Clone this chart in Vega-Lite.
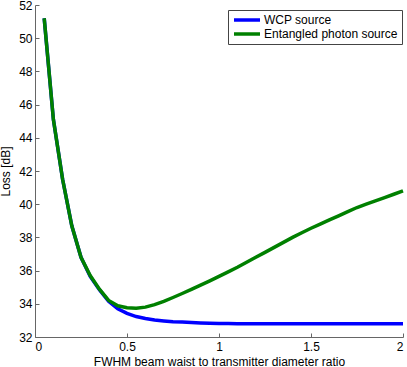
{
  "$schema": "https://vega.github.io/schema/vega-lite/v6.json",
  "width": 368,
  "height": 332,
  "autosize": "none",
  "padding": {"left": 35, "top": 5, "right": 4, "bottom": 30},
  "background": "white",
  "config": {
    "view": {"stroke": null},
    "font": "Liberation Sans",
    "axis": {
      "grid": false,
      "domainColor": "#666666",
      "tickColor": "#666666",
      "tickSize": -4,
      "labelColor": "#000000",
      "titleColor": "#000000",
      "labelFontSize": 12,
      "titleFontSize": 12,
      "titleFontWeight": "normal",
      "labelFont": "Liberation Sans",
      "titleFont": "Liberation Sans"
    }
  },
  "datasets": {
    "curves": [
      {"x": 0.05, "loss": 51.2, "source": "WCP source"},
      {"x": 0.10, "loss": 45.1, "source": "WCP source"},
      {"x": 0.15, "loss": 41.5, "source": "WCP source"},
      {"x": 0.20, "loss": 38.7, "source": "WCP source"},
      {"x": 0.25, "loss": 36.8, "source": "WCP source"},
      {"x": 0.30, "loss": 35.65, "source": "WCP source"},
      {"x": 0.35, "loss": 34.85, "source": "WCP source"},
      {"x": 0.40, "loss": 34.15, "source": "WCP source"},
      {"x": 0.45, "loss": 33.7, "source": "WCP source"},
      {"x": 0.50, "loss": 33.42, "source": "WCP source"},
      {"x": 0.55, "loss": 33.23, "source": "WCP source"},
      {"x": 0.60, "loss": 33.12, "source": "WCP source"},
      {"x": 0.65, "loss": 33.03, "source": "WCP source"},
      {"x": 0.70, "loss": 32.97, "source": "WCP source"},
      {"x": 0.75, "loss": 32.92, "source": "WCP source"},
      {"x": 0.80, "loss": 32.9, "source": "WCP source"},
      {"x": 0.85, "loss": 32.87, "source": "WCP source"},
      {"x": 0.90, "loss": 32.85, "source": "WCP source"},
      {"x": 0.95, "loss": 32.83, "source": "WCP source"},
      {"x": 1.00, "loss": 32.82, "source": "WCP source"},
      {"x": 1.05, "loss": 32.81, "source": "WCP source"},
      {"x": 1.10, "loss": 32.8, "source": "WCP source"},
      {"x": 1.20, "loss": 32.8, "source": "WCP source"},
      {"x": 1.30, "loss": 32.8, "source": "WCP source"},
      {"x": 1.40, "loss": 32.8, "source": "WCP source"},
      {"x": 1.50, "loss": 32.8, "source": "WCP source"},
      {"x": 1.60, "loss": 32.8, "source": "WCP source"},
      {"x": 1.70, "loss": 32.8, "source": "WCP source"},
      {"x": 1.80, "loss": 32.8, "source": "WCP source"},
      {"x": 1.90, "loss": 32.8, "source": "WCP source"},
      {"x": 2.00, "loss": 32.8, "source": "WCP source"},
      {"x": 0.05, "loss": 51.2, "source": "Entangled photon source"},
      {"x": 0.10, "loss": 45.1, "source": "Entangled photon source"},
      {"x": 0.15, "loss": 41.5, "source": "Entangled photon source"},
      {"x": 0.20, "loss": 38.7, "source": "Entangled photon source"},
      {"x": 0.25, "loss": 36.8, "source": "Entangled photon source"},
      {"x": 0.30, "loss": 35.7, "source": "Entangled photon source"},
      {"x": 0.35, "loss": 34.88, "source": "Entangled photon source"},
      {"x": 0.40, "loss": 34.2, "source": "Entangled photon source"},
      {"x": 0.45, "loss": 33.88, "source": "Entangled photon source"},
      {"x": 0.50, "loss": 33.76, "source": "Entangled photon source"},
      {"x": 0.55, "loss": 33.73, "source": "Entangled photon source"},
      {"x": 0.60, "loss": 33.8, "source": "Entangled photon source"},
      {"x": 0.65, "loss": 33.95, "source": "Entangled photon source"},
      {"x": 0.70, "loss": 34.15, "source": "Entangled photon source"},
      {"x": 0.75, "loss": 34.38, "source": "Entangled photon source"},
      {"x": 0.80, "loss": 34.62, "source": "Entangled photon source"},
      {"x": 0.85, "loss": 34.87, "source": "Entangled photon source"},
      {"x": 0.90, "loss": 35.12, "source": "Entangled photon source"},
      {"x": 0.95, "loss": 35.38, "source": "Entangled photon source"},
      {"x": 1.00, "loss": 35.65, "source": "Entangled photon source"},
      {"x": 1.05, "loss": 35.92, "source": "Entangled photon source"},
      {"x": 1.10, "loss": 36.2, "source": "Entangled photon source"},
      {"x": 1.15, "loss": 36.5, "source": "Entangled photon source"},
      {"x": 1.20, "loss": 36.8, "source": "Entangled photon source"},
      {"x": 1.25, "loss": 37.1, "source": "Entangled photon source"},
      {"x": 1.30, "loss": 37.4, "source": "Entangled photon source"},
      {"x": 1.35, "loss": 37.7, "source": "Entangled photon source"},
      {"x": 1.40, "loss": 38.0, "source": "Entangled photon source"},
      {"x": 1.45, "loss": 38.28, "source": "Entangled photon source"},
      {"x": 1.50, "loss": 38.55, "source": "Entangled photon source"},
      {"x": 1.55, "loss": 38.8, "source": "Entangled photon source"},
      {"x": 1.60, "loss": 39.05, "source": "Entangled photon source"},
      {"x": 1.65, "loss": 39.3, "source": "Entangled photon source"},
      {"x": 1.70, "loss": 39.55, "source": "Entangled photon source"},
      {"x": 1.75, "loss": 39.8, "source": "Entangled photon source"},
      {"x": 1.80, "loss": 40.0, "source": "Entangled photon source"},
      {"x": 1.85, "loss": 40.2, "source": "Entangled photon source"},
      {"x": 1.90, "loss": 40.4, "source": "Entangled photon source"},
      {"x": 1.95, "loss": 40.6, "source": "Entangled photon source"},
      {"x": 2.00, "loss": 40.8, "source": "Entangled photon source"}
    ]
  },
  "data": {"name": "curves"},
  "encoding": {
    "x": {
      "field": "x",
      "type": "quantitative",
      "scale": {"domain": [0, 2], "nice": false},
      "axis": {
        "title": "FWHM beam waist to transmitter diameter ratio",
        "values": [0, 0.5, 1, 1.5, 2],
        "format": "~g",
        "labelPadding": 8,
        "titlePadding": 4
      }
    },
    "y": {
      "field": "loss",
      "type": "quantitative",
      "scale": {"domain": [32, 52], "nice": false, "zero": false},
      "axis": {
        "title": "Loss [dB]",
        "values": [32, 34, 36, 38, 40, 42, 44, 46, 48, 50, 52],
        "labelPadding": 7,
        "titlePadding": 6
      }
    },
    "color": {
      "field": "source",
      "type": "nominal",
      "scale": {
        "domain": ["WCP source", "Entangled photon source"],
        "range": ["#0000ff", "#008000"]
      },
      "legend": {
        "title": null,
        "orient": "none",
        "legendX": 193,
        "legendY": 5,
        "direction": "vertical",
        "fillColor": "white",
        "strokeColor": "#444444",
        "padding": 4,
        "rowPadding": 2,
        "clipHeight": 12,
        "symbolType": "stroke",
        "symbolSize": 676,
        "symbolStrokeWidth": 3.5,
        "labelFontSize": 12,
        "labelFont": "Liberation Sans",
        "labelColor": "#000000",
        "labelOffset": 2
      }
    }
  },
  "layer": [
    {
      "transform": [{"filter": "datum.source === 'WCP source'"}],
      "mark": {"type": "line", "strokeWidth": 3.5}
    },
    {
      "transform": [{"filter": "datum.source === 'Entangled photon source'"}],
      "mark": {"type": "line", "strokeWidth": 3.5}
    }
  ]
}
